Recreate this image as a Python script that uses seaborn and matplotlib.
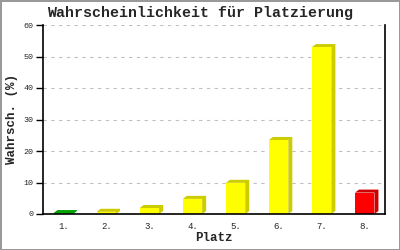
import matplotlib
matplotlib.use("Agg")
import matplotlib.pyplot as plt
import seaborn as sns
import pandas as pd
from matplotlib.patches import Polygon

places = ["1.", "2.", "3.", "4.", "5.", "6.", "7.", "8."]
probs = [0.3, 0.7, 1.9, 4.8, 9.9, 23.5, 53.0, 6.8]
fronts = ["#00cc00", "#ffff00", "#ffff00", "#ffff00", "#ffff00", "#ffff00", "#ffff00", "#ff0000"]
sides = ["#00a000", "#cccc00", "#cccc00", "#cccc00", "#cccc00", "#cccc00", "#cccc00", "#cc0000"]
yticks = [0, 10, 20, 30, 40, 50, 60]

sns.set_style("white")
plt.rcParams["font.family"] = ["Liberation Mono", "DejaVu Sans Mono"]

df = pd.DataFrame({"Platz": places, "p": probs})
fig = plt.figure(figsize=(4, 2.5), dpi=100)
fig.patch.set_edgecolor("#999999")
fig.patch.set_linewidth(2)
ax = fig.add_axes([43/400, 36/250, 342/400, 189/250])
sns.barplot(data=df, x="Platz", y="p", hue="Platz", palette=fronts, legend=False,
            width=0.45, saturation=1, linewidth=0, ax=ax, zorder=3)

ax.set_ylim(0, 60)
ax.set_xlim(-0.47, 7.47)

DX, DY = 4, 3  # depth in pixels
for patch, sc in zip(list(ax.patches), sides):
    x0, y0 = patch.get_x(), patch.get_y()
    w, h = patch.get_width(), patch.get_height()
    (lx, by), (rx, ty) = ax.transData.transform([(x0, y0), (x0 + w, y0 + h)])
    verts = [(lx, ty), (lx + DX, ty + DY), (rx + DX, ty + DY),
             (rx + DX, by + DY), (rx, by), (rx, ty)]
    poly = Polygon(verts, closed=True, facecolor=sc, edgecolor="none",
                   transform=None, zorder=2)
    ax.add_artist(poly)

ax.set_yticks(yticks)
ax.yaxis.grid(True, linestyle=(0, (3, 4)), color="#c0c0c0", linewidth=0.8)
ax.set_axisbelow(True)
for s in ["left", "bottom", "right"]:
    ax.spines[s].set_visible(True)
    ax.spines[s].set_color("black")
    ax.spines[s].set_linewidth(1.2)
    ax.spines[s].set_zorder(5)
ax.spines["top"].set_visible(False)
ax.tick_params(axis="y", left=True, length=5, width=1, labelsize=6, pad=2, color="black")
ax.tick_params(axis="x", bottom=False, labelsize=6.5, pad=2)
ax.set_xlabel("Platz", fontsize=9, fontweight="bold", labelpad=1)
ax.set_ylabel("Wahrsch. (%)", fontsize=9, fontweight="bold", labelpad=4)
fig.suptitle("Wahrscheinlichkeit für Platzierung", fontsize=10.8, fontweight="bold", y=0.975)
fig.savefig("out.png", dpi=100, edgecolor=fig.get_edgecolor())
